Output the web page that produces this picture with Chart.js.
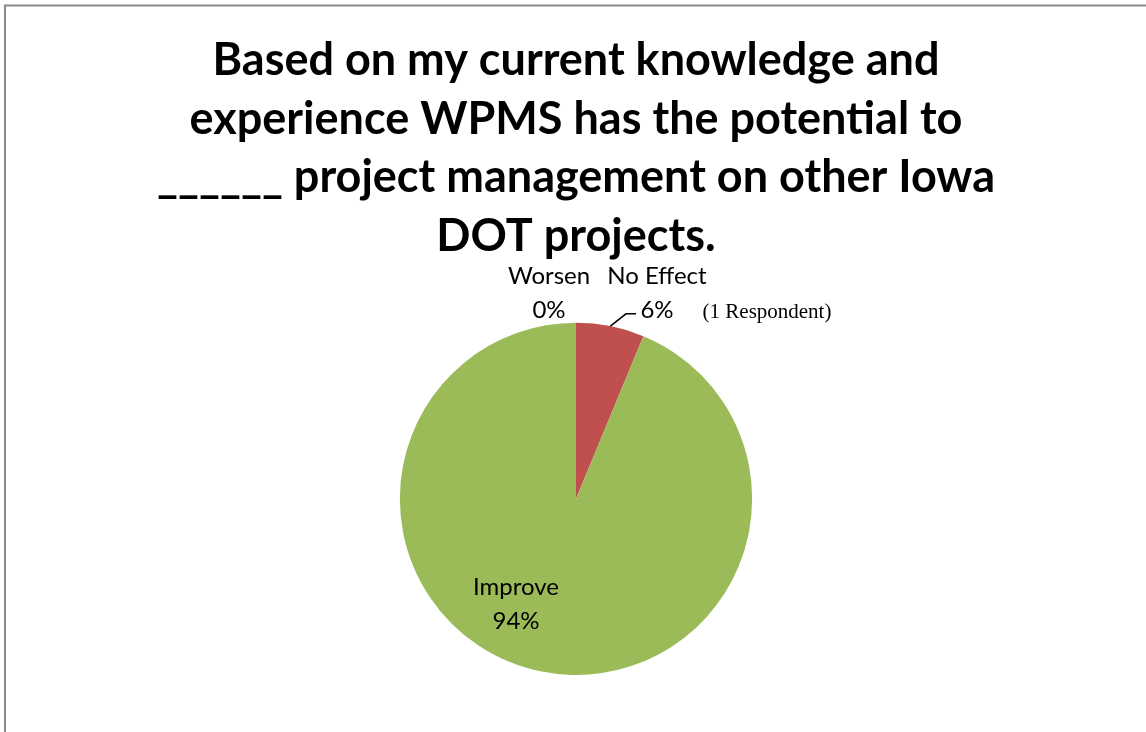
<!DOCTYPE html>
<html>
<head>
<meta charset="utf-8">
<script src="https://cdn.jsdelivr.net/npm/chart.js@4"></script>
<style>
    html, body { margin: 0; padding: 0; background: #fff; }
</style>
</head>
<body>
<canvas id="pieChart" width="1146" height="732"></canvas>
<script>
// data
const categories = ['Worsen', 'No Effect', 'Improve'];
const respondents = [0, 1, 15];
const sliceColors = ['#4F81BD', '#C0504D', '#9BBB59'];
const titleLines = [
    'Based on my current knowledge and',
    'experience WPMS has the potential to',
    '______ project management on other Iowa',
    'DOT projects.',
];
const noteText = '(1 Respondent)';

// where each label sits, relative to the pie centre
const labelOffsets = [
    { dx: -27, dy: -206 },
    { dx: 81, dy: -206 },
    { dx: -60, dy: 105 },
];

const total = respondents.reduce((a, b) => a + b, 0);

// gray frame line top/left
const framePlugin = {
    id: 'frame',
    beforeDraw(chart) {
        const ctx = chart.ctx;
        ctx.save();
        ctx.fillStyle = '#fff';
        ctx.fillRect(0, 0, chart.width, chart.height);
        ctx.strokeStyle = '#898989';
        ctx.lineWidth = 2;
        ctx.beginPath();
        ctx.moveTo(5, chart.height);
        ctx.lineTo(5, 5.5);
        ctx.lineTo(chart.width, 5.5);
        ctx.stroke();
        ctx.restore();
    }
};

// category name + percent labels
const pieLabels = {
    id: 'pieLabels',
    afterDatasetsDraw(chart) {
        const ctx = chart.ctx;
        const arcs = chart.getDatasetMeta(0).data;
        ctx.save();
        ctx.fillStyle = '#000';
        ctx.textAlign = 'center';
        ctx.textBaseline = 'middle';
        ctx.font = '24px Lato';
        arcs.forEach((arc, i) => {
            const off = labelOffsets[i];
            const cx = arc.x + off.dx;
            const cy = arc.y + off.dy;
            const pct = Math.round(respondents[i] / total * 100) + '%';
            ctx.fillText(categories[i], cx, cy - 17);
            ctx.fillText(pct, cx, cy + 17);
        });

        // leader line for the small slice
        const a = arcs[1];
        const mid = (a.startAngle + a.endAngle) / 2;
        const sx = a.x + Math.cos(mid) * a.outerRadius;
        const sy = a.y + Math.sin(mid) * a.outerRadius;
        const ex = a.x + labelOffsets[1].dx - 21;
        const ey = a.y + labelOffsets[1].dy + 21;
        ctx.strokeStyle = '#000';
        ctx.lineWidth = 1.5;
        ctx.beginPath();
        ctx.moveTo(sx, sy);
        ctx.lineTo(ex - 10, ey);
        ctx.lineTo(ex, ey);
        ctx.stroke();

        ctx.font = '21px "Liberation Serif"';
        ctx.fillText(noteText, a.x + 191, a.y + labelOffsets[1].dy + 20);
        ctx.restore();
    }
};

new Chart(document.getElementById('pieChart'), {
    type: 'pie',
    data: {
        labels: categories,
        datasets: [{
            data: respondents,
            backgroundColor: sliceColors,
            borderWidth: 0,
            hoverOffset: 0,
        }]
    },
    options: {
        responsive: false,
        animation: false,
        layout: {
            padding: { left: 6, right: 0, top: 0, bottom: 57 }
        },
        plugins: {
            legend: { display: false },
            tooltip: { enabled: false },
            title: {
                display: true,
                text: titleLines,
                color: '#000',
                font: { family: 'Lato', size: 45, weight: 'bold', lineHeight: 1.304 },
                padding: { top: 31, bottom: 57 },
            },
        }
    },
    plugins: [framePlugin, pieLabels]
});
</script>
</body>
</html>
